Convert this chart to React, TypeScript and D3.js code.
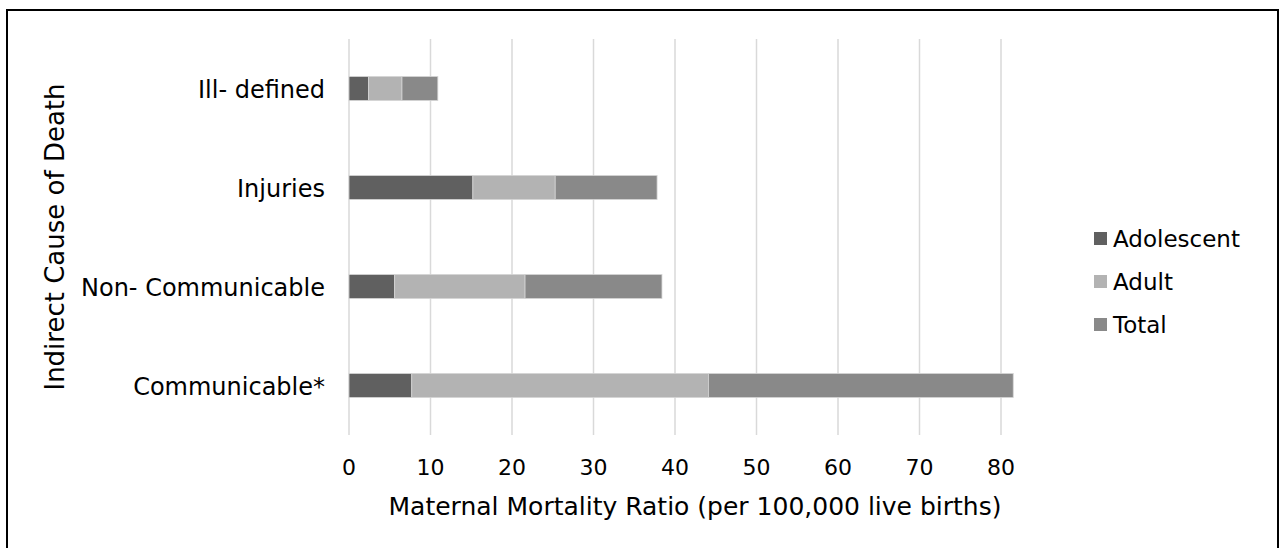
import React from "react";
import * as d3 from "d3";

const categories = ["Ill- defined", "Injuries", "Non- Communicable", "Communicable*"];
const adolescent = [2.4, 15.2, 5.6, 7.7];
const adult = [4.1, 10.1, 16.0, 36.4];
const total = [4.4, 12.5, 16.8, 37.4];
const seriesNames = ["Adolescent", "Adult", "Total"];
const seriesColors = ["#606060", "#b3b3b3", "#898989"];
const xTicks = [0, 10, 20, 30, 40, 50, 60, 70, 80];

const W = 1281;
const H = 548;
const FONT = "'DejaVu Sans', sans-serif";

export default function App() {
  const x = d3.scaleLinear().domain([0, 80]).range([349, 1001]);
  const y = d3
    .scaleBand<string>()
    .domain(categories)
    .range([39, 435])
    .paddingInner(0.758)
    .paddingOuter(0.379);

  const rows = categories.map((c, i) => ({
    cat: c,
    Adolescent: adolescent[i],
    Adult: adult[i],
    Total: total[i],
  }));
  const stacked = d3.stack<any>().keys(seriesNames)(rows);

  return (
    <svg
      width={W}
      height={H}
      style={{ position: "absolute", left: 0, top: 0, background: "#fff" }}
      fontFamily={FONT}
    >
      <rect x={0} y={0} width={W} height={H} fill="#fff" />
      <rect x={7} y={10} width={1271} height={545} fill="none" stroke="#000" strokeWidth={2} />

      {/* gridlines */}
      {xTicks.map((t) => (
        <line key={t} x1={x(t)} x2={x(t)} y1={39} y2={435} stroke="#d9d9d9" strokeWidth={1.5} />
      ))}

      {/* bars */}
      {stacked.map((s, si) => (
        <g key={s.key}>
          {s.map((d, i) => (
            <rect
              key={i}
              x={x(d[0])}
              y={y(categories[i])}
              width={x(d[1]) - x(d[0])}
              height={y.bandwidth()}
              fill={seriesColors[si]}
              stroke="#d4d4d4"
              strokeWidth={0.8}
            />
          ))}
        </g>
      ))}

      {/* category labels */}
      {categories.map((c) => (
        <text
          key={c}
          x={325}
          y={(y(c) as number) + y.bandwidth() / 2 + 9}
          textAnchor="end"
          fontSize={24}
          fill="#000"
        >
          {c}
        </text>
      ))}

      {/* x tick labels */}
      {xTicks.map((t) => (
        <text key={t} x={x(t)} y={475} textAnchor="middle" fontSize={22} fill="#000">
          {t}
        </text>
      ))}

      {/* x axis title */}
      <text x={695} y={515} textAnchor="middle" fontSize={25} fill="#000">
        Maternal Mortality Ratio (per 100,000 live births)
      </text>

      {/* y axis title */}
      <text
        transform="translate(64,237) rotate(-90)"
        textAnchor="middle"
        fontSize={26}
        fill="#000"
      >
        Indirect Cause of Death
      </text>

      {/* legend */}
      {seriesNames.map((n, i) => (
        <g key={n} transform={`translate(1094, ${232 + i * 43})`}>
          <rect x={0} y={0} width={13} height={13} fill={seriesColors[i]} />
          <text x={19} y={14.5} fontSize={23} fill="#000">
            {n}
          </text>
        </g>
      ))}
    </svg>
  );
}
